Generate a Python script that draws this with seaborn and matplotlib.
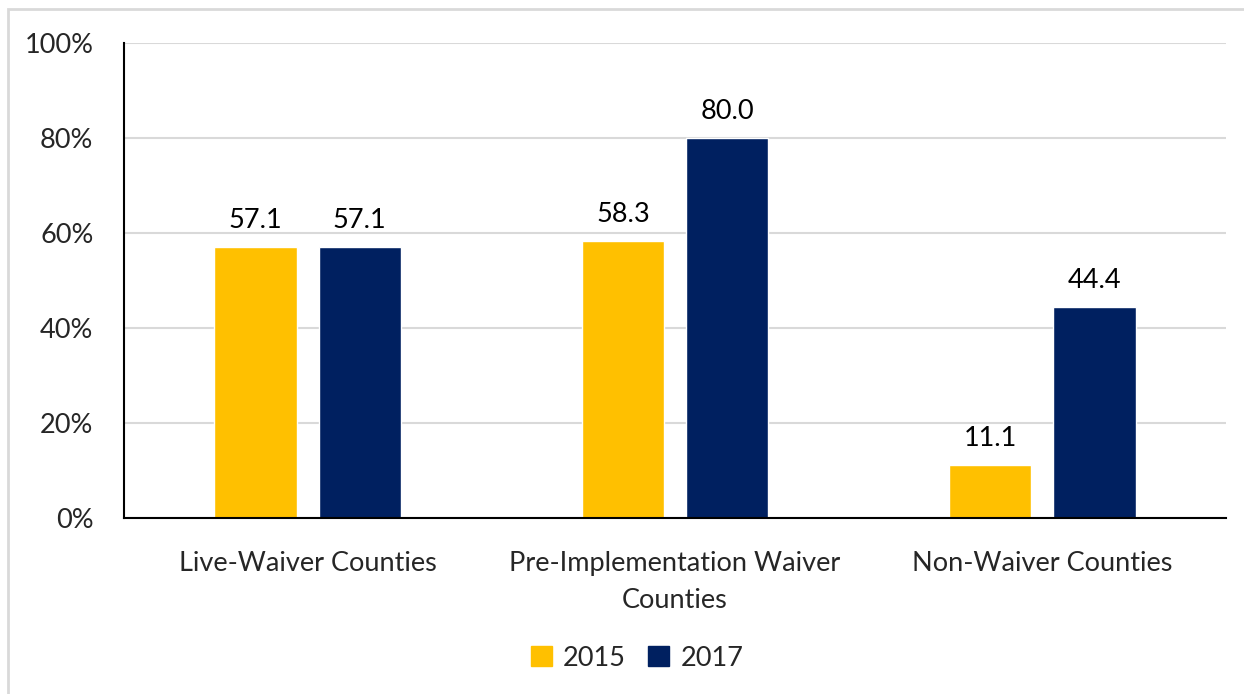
import matplotlib
matplotlib.use("Agg")
import matplotlib.pyplot as plt
import matplotlib.patches as mpatches
import seaborn as sns
import pandas as pd

categories = ["Live-Waiver Counties", "Pre-Implementation Waiver\nCounties", "Non-Waiver Counties"]
years = ["2015", "2017"]
values_2015 = [57.1, 58.3, 11.1]
values_2017 = [57.1, 80.0, 44.4]
yticks = [0, 20, 40, 60, 80, 100]
colors = ["#FFC000", "#002060"]

df = pd.DataFrame({
    "category": categories * 2,
    "year": [years[0]] * 3 + [years[1]] * 3,
    "value": values_2015 + values_2017,
})

sns.set_theme(style="white")
plt.rcParams["font.family"] = ["Lato", "DejaVu Sans"]

FS = 19.5
fig = plt.figure(figsize=(12.44, 6.94), dpi=100)
ax = fig.add_axes([124 / 1244, 1 - 518 / 694, (1226 - 124) / 1244, (518 - 43) / 694])

sns.barplot(data=df, x="category", y="value", hue="year", palette=colors,
            width=0.567, gap=0.21, ax=ax, legend=False, saturation=1,
            order=categories, hue_order=years)

for cont in ax.containers:
    ax.bar_label(cont, fmt="%.1f", padding=10, fontsize=FS, color="black")

ax.set_ylim(0, 100)
ax.set_xlim(-0.5, 2.5)
ax.set_yticks(yticks)
ax.set_yticklabels([f"{v}%" for v in yticks], fontsize=FS)
ax.tick_params(axis="y", length=0, pad=22)
ax.tick_params(axis="x", length=0, pad=24, labelsize=FS)
ax.set_xlabel("")
ax.set_ylabel("")
ax.yaxis.grid(True, color="#D9D9D9", linewidth=1.5)
ax.set_axisbelow(True)
for s in ["top", "right"]:
    ax.spines[s].set_visible(False)
for s in ["left", "bottom"]:
    ax.spines[s].set_color("black")
    ax.spines[s].set_linewidth(1.5)
for lab in ax.get_xticklabels():
    lab.set_ha("center")
    lab.set_multialignment("center")
    lab.set_linespacing(1.6)

handles = [mpatches.Patch(color=c, label=y) for c, y in zip(colors, years)]
fig.legend(handles=handles, loc="center", bbox_to_anchor=(637 / 1244, 1 - 658 / 694),
           ncol=2, frameon=False, fontsize=FS, handlelength=0.8, handleheight=0.8,
           handletextpad=0.4, columnspacing=0.8)

border = mpatches.Rectangle((8 / 1244, -0.1), 1.2, 1 - 9 / 694 + 0.1, transform=fig.transFigure,
                            fill=False, edgecolor="#D9D9D9", linewidth=2)
fig.patches.append(border)

fig.savefig("out.png", dpi=100)
